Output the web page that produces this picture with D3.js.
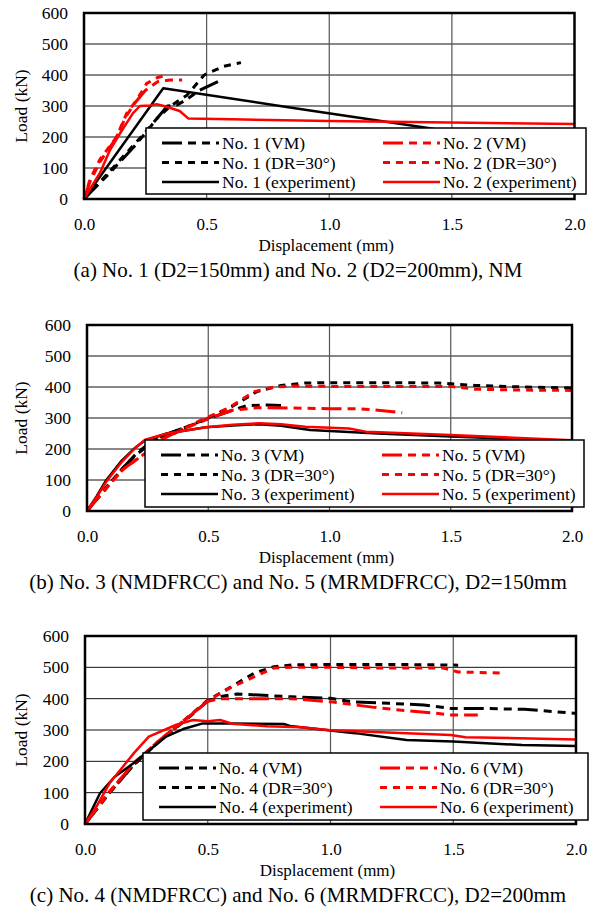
<!DOCTYPE html>
<html><head><meta charset="utf-8">
<script src="https://cdn.jsdelivr.net/npm/d3@7"></script>
<style>
html,body{margin:0;padding:0;background:#fff;}
svg{display:block;}
svg text{font-family:"Liberation Serif","Times New Roman",serif !important;fill:#000;}
</style></head>
<body><svg id="chart" width="596" height="910"></svg>
<script>
// ---------- data ----------
const xTicks = [0, 0.5, 1.0, 1.5, 2.0];
const yTicks = [0, 100, 200, 300, 400, 500, 600];
const xTitle = "Displacement (mm)";
const yTitle = "Load (kN)";
const captions = [
  "(a) No. 1 (D2=150mm) and No. 2 (D2=200mm), NM",
  "(b) No. 3 (NMDFRCC) and No. 5 (MRMDFRCC), D2=150mm",
  "(c) No. 4 (NMDFRCC) and No. 6 (MRMDFRCC), D2=200mm"
];
const specimens = [["No. 1", "No. 2"], ["No. 3", "No. 5"], ["No. 4", "No. 6"]];
const seriesKinds = ["(VM)", "(DR=30°)", "(experiment)"];

// panel (a)
const a_black_vm  = [[0,0],[0.1,80],[0.2,165],[0.26,222],[0.3,262],[0.34,300],[0.38,303],[0.42,322],[0.47,350],[0.55,380]];
const a_black_dr  = [[0,0],[0.1,85],[0.2,172],[0.25,215],[0.3,262],[0.35,298],[0.42,335],[0.49,400],[0.57,428],[0.64,440]];
const a_red_vm    = [[0,0],[0.024,55],[0.065,120],[0.13,195],[0.17,265],[0.21,312],[0.25,350],[0.3,378],[0.35,384],[0.4,384]];
const a_red_dr    = [[0,0],[0.024,62],[0.065,128],[0.133,200],[0.174,276],[0.215,320],[0.256,373],[0.3,392],[0.34,400]];
const a_black_exp = [[0,0],[0.323,357],[0.86,293],[1.41,228],[1.5,215]];
const a_red_exp   = [[0,0],[0.065,84],[0.106,158],[0.147,212],[0.2,277],[0.228,300],[0.27,302],[0.296,306],[0.33,299],[0.39,284],[0.425,260],[0.6,257],[1.0,252],[2.0,242]];

// panel (b)
const b_black_vm  = [[0,0],[0.05,48],[0.1,95],[0.15,140],[0.2,182],[0.25,215],[0.3,240],[0.4,268],[0.5,298],[0.6,325],[0.66,340],[0.74,342],[0.8,340]];
const b_black_dr  = [[0,0],[0.05,48],[0.1,95],[0.15,140],[0.2,180],[0.25,210],[0.3,238],[0.4,268],[0.5,300],[0.6,338],[0.7,385],[0.8,405],[0.9,413],[1.0,414],[1.2,414],[1.45,413],[1.6,405],[1.8,400],[2.0,397]];
const b_red_vm    = [[0,0],[0.05,46],[0.1,92],[0.15,135],[0.22,175],[0.25,190],[0.3,228],[0.4,265],[0.5,298],[0.6,325],[0.7,333],[0.85,332],[1.0,330],[1.12,330],[1.2,325],[1.3,317]];
const b_red_dr    = [[0,0],[0.05,46],[0.1,92],[0.15,135],[0.22,175],[0.25,192],[0.3,228],[0.4,265],[0.47,293],[0.58,331],[0.69,385],[0.77,400],[0.85,403],[1.0,402],[1.25,402],[1.5,402],[1.6,393],[1.8,390],[2.0,389]];
const b_black_exp = [[0,0],[0.04,48],[0.08,100],[0.14,160],[0.2,205],[0.24,228],[0.33,250],[0.49,270],[0.6,276],[0.71,280],[0.8,275],[0.92,261],[1.0,258],[1.2,250],[1.5,240],[2.0,225]];
const b_red_exp   = [[0,0],[0.04,45],[0.08,95],[0.14,155],[0.2,204],[0.24,230],[0.33,250],[0.49,270],[0.6,278],[0.71,283],[0.8,280],[0.9,272],[1.08,266],[1.15,256],[1.5,245],[2.0,228]];

// panel (c)
const c_black_vm  = [[0,0],[0.1,100],[0.2,190],[0.3,262],[0.4,325],[0.5,392],[0.56,408],[0.62,415],[0.84,406],[1.0,401],[1.09,390],[1.24,385],[1.38,380],[1.49,369],[1.6,369],[1.79,366],[2.0,353]];
const c_black_dr  = [[0,0],[0.1,100],[0.2,190],[0.3,262],[0.4,328],[0.5,395],[0.6,440],[0.69,482],[0.77,502],[0.85,508],[1.0,509],[1.3,509],[1.52,507]];
const c_red_vm    = [[0,0],[0.1,103],[0.2,195],[0.3,265],[0.4,328],[0.5,392],[0.55,400],[0.84,400],[1.0,390],[1.17,373],[1.28,364],[1.41,355],[1.49,348],[1.6,348]];
const c_red_dr    = [[0,0],[0.1,103],[0.2,195],[0.3,265],[0.4,328],[0.5,392],[0.54,412],[0.6,438],[0.69,470],[0.77,498],[0.84,500],[1.0,500],[1.2,498],[1.46,498],[1.52,485],[1.7,482]];
const c_black_exp = [[0,0],[0.061,98],[0.12,150],[0.197,194],[0.33,279],[0.4,303],[0.48,321],[0.6,321],[0.81,319],[0.835,313],[1.1,290],[1.31,268],[1.5,263],[1.78,252],[2.0,249]];
const c_red_exp   = [[0,0],[0.05,60],[0.1,130],[0.2,227],[0.26,279],[0.37,316],[0.44,332],[0.5,328],[0.55,332],[0.6,320],[0.74,312],[0.88,309],[1.0,299],[1.49,284],[1.55,277],[2.0,270]];

const panelSeries = [
  [a_black_vm, a_black_dr, a_red_vm, a_red_dr, a_black_exp, a_red_exp],
  [b_black_vm, b_black_dr, b_red_vm, b_red_dr, b_black_exp, b_red_exp],
  [c_black_vm, c_black_dr, c_red_vm, c_red_dr, c_black_exp, c_red_exp]
];

// ---------- layout / styles ----------
const FONT = '"Liberation Serif","Times New Roman",serif';
const layout = [
  {x0:84, x1:574.5, yT:13,  yB:199, lg:{x:146,y:128,w:440,h:66}},
  {x0:87, x1:572,   yT:325, yB:511, lg:{x:145,y:440,w:439,h:67}},
  {x0:85, x1:576,   yT:636, yB:824, lg:{x:143,y:753,w:445,h:67}}
];
const colors = ["#000", "#000", "#f00", "#f00", "#000", "#f00"];
const dashes = ["20,6,8,6,8,6", "7,6", "20,6,8,6,8,6", "7,6", null, null];
const widths = [3, 3, 3, 3, 2.5, 2.5];

const svg = d3.select("#chart");

layout.forEach((L, pi) => {
  const g = svg.append("g").attr("font-family", FONT);
  const x = d3.scaleLinear().domain([0, 2]).range([L.x0, L.x1]);
  const y = d3.scaleLinear().domain([0, 600]).range([L.yB, L.yT]);

  // gridlines
  g.append("g").selectAll("line").data(yTicks.slice(1, -1)).join("line")
    .attr("x1", L.x0).attr("x2", L.x1).attr("y1", d => y(d)).attr("y2", d => y(d))
    .attr("stroke", "#111").attr("stroke-width", 1);
  g.append("g").selectAll("line").data(xTicks.slice(1, -1)).join("line")
    .attr("y1", L.yT).attr("y2", L.yB).attr("x1", d => x(d)).attr("x2", d => x(d))
    .attr("stroke", "#555").attr("stroke-width", 1.2);

  // axes labels via d3 axis
  const yAxis = g.append("g").attr("transform", `translate(${L.x0 - 16},0)`)
    .call(d3.axisLeft(y).tickValues(yTicks).tickSize(0).tickPadding(0).tickFormat(d3.format("d")));
  yAxis.attr("font-family", FONT).attr("font-size", 17.5);
  yAxis.select(".domain").remove();
  yAxis.selectAll("text").style("font-family", FONT).style("font-size", "17.5px").attr("fill", "#000");

  const xAxis = g.append("g").attr("transform", `translate(0,${L.yB + 19})`)
    .call(d3.axisBottom(x).tickValues(xTicks).tickSize(0).tickPadding(0).tickFormat(d3.format(".1f")));
  xAxis.attr("font-family", FONT).attr("font-size", 17);
  xAxis.select(".domain").remove();
  xAxis.selectAll("text").style("font-family", FONT).style("font-size", "17px").attr("fill", "#000");

  // series
  const line = d3.line().x(d => x(d[0])).y(d => y(d[1]));
  panelSeries[pi].forEach((s, si) => {
    g.append("path").datum(s).attr("d", line)
      .attr("fill", "none").attr("stroke", colors[si]).attr("stroke-width", widths[si])
      .attr("stroke-dasharray", dashes[si]).attr("stroke-linejoin", "round");
  });

  // frame
  g.append("rect").attr("x", L.x0).attr("y", L.yT).attr("width", L.x1 - L.x0).attr("height", L.yB - L.yT)
    .attr("fill", "none").attr("stroke", "#000").attr("stroke-width", 2.5);

  // titles
  g.append("text").attr("x", (L.x0 + L.x1) / 2 - 3).attr("y", L.yB + 52).attr("text-anchor", "middle")
    .style("font-size", "17px").text(xTitle);
  g.append("text").attr("transform", `translate(27,${(L.yT + L.yB) / 2}) rotate(-90)`)
    .attr("text-anchor", "middle").style("font-size", "17.5px").text(yTitle);
  g.append("text").attr("x", 298).attr("y", L.yB + 78).attr("text-anchor", "middle")
    .style("font-size", "21px").text(captions[pi]);

  // legend
  const lg = g.append("g");
  lg.append("rect").attr("x", L.lg.x).attr("y", L.lg.y).attr("width", L.lg.w).attr("height", L.lg.h)
    .attr("fill", "#fff").attr("stroke", "#000").attr("stroke-width", 1.5);
  const rowH = 19.5;
  const items = [];
  seriesKinds.forEach((k, ki) => {
    items.push({col: 0, row: ki, idx: ki === 2 ? 4 : ki, label: specimens[pi][0] + " " + k});
    items.push({col: 1, row: ki, idx: ki === 2 ? 5 : ki + 2, label: specimens[pi][1] + " " + k});
  });
  items.forEach(it => {
    const cy = L.lg.y + 15 + it.row * rowH;
    const lx = it.col === 0 ? L.lg.x + 16 : L.lg.x + 237;
    lg.append("line").attr("x1", lx).attr("x2", lx + 57).attr("y1", cy).attr("y2", cy)
      .attr("stroke", colors[it.idx]).attr("stroke-width", widths[it.idx])
      .attr("stroke-dasharray", dashes[it.idx]);
    lg.append("text").attr("x", lx + 60).attr("y", cy).attr("dy", "0.35em")
      .style("font-size", "17.5px").text(it.label);
  });
});
</script></body></html>
